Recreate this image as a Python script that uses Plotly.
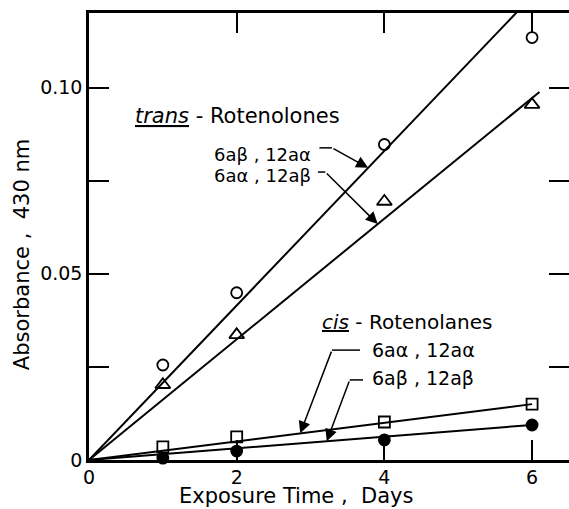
import plotly.graph_objects as go

# ---- data ----
days = [1, 2, 4, 6]
trans_b_a = [0.0255, 0.0449, 0.0847, 0.1134]   # 6aβ,12aα  (open circles)
trans_a_b = [0.0202, 0.0336, 0.0694, 0.0954]   # 6aα,12aβ  (open triangles)
cis_a_a = [0.0035, 0.0062, 0.0102, 0.0150]     # 6aα,12aα  (open squares)
cis_b_b = [0.0005, 0.0024, 0.0054, 0.0094]     # 6aβ,12aβ  (filled circles)

# fitted straight lines through the origin (slope per day) and their end day
slopes = {"tba": 0.02075, "tab": 0.0162, "caa": 0.0025, "cbb": 0.00157}
line_end = {"tba": 6.1, "tab": 6.1, "caa": 6.0, "cbb": 6.0}

x_ticks = [0, 2, 4, 6]
y_ticks = [0, 0.025, 0.05, 0.075, 0.10]
y_ticktext = ["0", "", "0.05", "", "0.10"]

FONT = "DejaVu Sans"
BLACK = "black"

fig = go.Figure()

for key in ["tba", "tab", "caa", "cbb"]:
    xe = line_end[key]
    fig.add_trace(go.Scatter(x=[0, xe], y=[0, slopes[key] * xe], mode="lines",
                             line=dict(color=BLACK, width=2), showlegend=False,
                             hoverinfo="skip"))

marker_specs = [
    (trans_b_a, "circle-open", 11),
    (trans_a_b, "triangle-up-open", 13),
    (cis_a_a, "square-open", 11),
    (cis_b_b, "circle", 11),
]
for vals, sym, size in marker_specs:
    fig.add_trace(go.Scatter(x=days, y=vals, mode="markers",
                             marker=dict(symbol=sym, size=size, color=BLACK,
                                         line=dict(color=BLACK, width=1.8)),
                             showlegend=False, cliponaxis=False))

# invisible trace so the right-hand tick axis is drawn
fig.add_trace(go.Scatter(x=[0], y=[0], yaxis="y2", mode="markers",
                         marker=dict(opacity=0), showlegend=False, hoverinfo="skip"))

# ---- labels ----
labels = [
    (0.60, 0.0923, "<i><u>trans</u></i> - Rotenolones", 21),
    (1.67, 0.0821, "6aβ , 12aα", 18),
    (1.67, 0.0765, "6aα , 12aβ", 18),
    (3.13, 0.0370, "<i><u>cis</u></i> - Rotenolanes", 20),
    (3.80, 0.0295, "6aα , 12aα", 19),
    (3.80, 0.0220, "6aβ , 12aβ", 19),
]
for x, y, t, s in labels:
    fig.add_annotation(x=x, y=y, text=t, showarrow=False, xanchor="left",
                       yanchor="middle", font=dict(family=FONT, size=s, color=BLACK))

# ---- bent arrows: horizontal lead + arrow to the fitted line ----
arrows = [
    # (h_start, h_end, h_y, tip_x, key)
    (3.12, 3.29, 0.0838, 3.78, "tba"),
    (3.10, 3.20, 0.0773, 3.91, "tab"),
    (3.67, 3.29, 0.0295, 2.86, "caa"),
    (3.71, 3.53, 0.0215, 3.22, "cbb"),
]
for hs, he, hy, tx, key in arrows:
    fig.add_shape(type="line", x0=hs, x1=he, y0=hy, y1=hy, xref="x", yref="y",
                  line=dict(color=BLACK, width=1.5))
    fig.add_annotation(x=tx, y=slopes[key] * tx, ax=he, ay=hy, axref="x", ayref="y",
                       xref="x", yref="y", text="", showarrow=True,
                       arrowhead=2, arrowsize=1.6, arrowwidth=1.5,
                       arrowcolor=BLACK, standoff=0)

# ---- axis titles ----
fig.add_annotation(x=2.80, y=0, xref="x", yref="paper", yshift=-50,
                   text="Exposure Time ,  Days", showarrow=False,
                   xanchor="center", yanchor="bottom",
                   font=dict(family=FONT, size=21, color=BLACK))
fig.add_annotation(x=0, y=0.055, xref="paper", yref="y", xshift=-67,
                   text="Absorbance ,  430 nm", showarrow=False, textangle=-90,
                   xanchor="center", yanchor="middle",
                   font=dict(family=FONT, size=21, color=BLACK))

axis_common = dict(showgrid=False, zeroline=False, linecolor=BLACK,
                   linewidth=2.5, ticks="inside", ticklen=20, tickwidth=2,
                   tickcolor=BLACK,
                   tickfont=dict(family=FONT, size=19, color=BLACK))

fig.update_layout(
    width=569, height=509,
    margin=dict(l=89, r=0, t=13, b=49),
    paper_bgcolor="white", plot_bgcolor="white",
    xaxis=dict(range=[0, 6.5], tickvals=x_ticks, ticktext=[str(v) for v in x_ticks],
               showline=True, mirror="ticks", ticklabelstandoff=-2, **axis_common),
    yaxis=dict(range=[0, 0.12], tickvals=y_ticks, ticktext=y_ticktext,
               showline=True, mirror=False, **axis_common),
    yaxis2=dict(range=[0, 0.12], tickvals=y_ticks, overlaying="y", side="right",
                showline=False, showticklabels=False, showgrid=False, zeroline=False,
                ticks="inside", ticklen=20, tickwidth=2, tickcolor=BLACK),
)

fig.write_html("out.html",
               config={"displayModeBar": False},
               post_script="document.body.style.margin='0';"
                           "document.body.style.overflow='hidden';")
